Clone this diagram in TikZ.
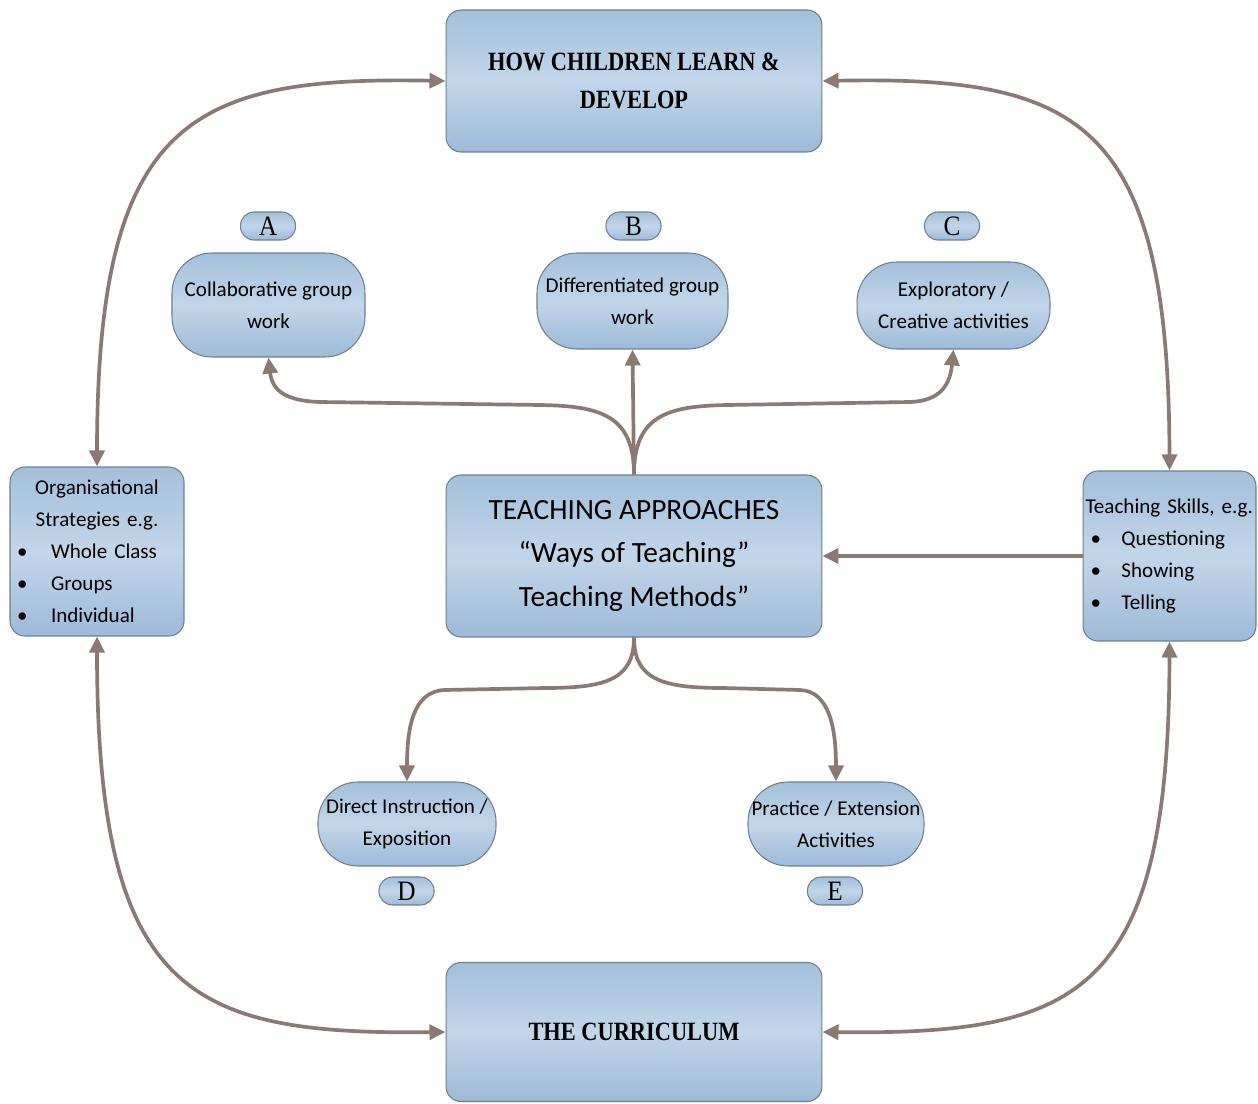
\documentclass[tikz,border=0pt]{standalone}
\usepackage{fontspec}
\setmainfont{Carlito}
\newfontfamily\headfont[FakeStretch=0.85]{Liberation Serif}
\newfontfamily\labfont[FakeStretch=0.9]{Liberation Serif}
\usetikzlibrary{arrows.meta}

\definecolor{boxtop}{HTML}{A3BFDA}
\definecolor{boxmid}{HTML}{C2D6E9}
\definecolor{boxbot}{HTML}{9EBAD7}
\definecolor{boxline}{HTML}{6F7F8E}
\definecolor{linkcol}{HTML}{8B7A73}

\begin{document}
\frenchspacing
\begin{tikzpicture}[x=0.02cm,y=-0.02cm,
  >={Triangle[length=0.32cm,width=0.3cm]},
  shadedbox/.style={draw=boxline, line width=0.6pt, top color=boxtop,
    bottom color=boxbot, middle color=boxmid, inner sep=0pt},
  bigbox/.style={shadedbox, rounded corners=0.3cm, minimum width=7.52cm, align=center},
  sidebox/.style={shadedbox, rounded corners=0.3cm, align=left,
    font=\fontsize{12}{18.2}\selectfont},
  pillbox/.style={shadedbox, rounded corners=0.8cm, align=center,
    font=\fontsize{12}{18.2}\selectfont},
  tagbox/.style={shadedbox, rounded corners=0.27cm, minimum width=1.1cm,
    minimum height=0.56cm, font=\labfont\fontsize{16}{16}\selectfont},
  conn/.style={draw=linkcol, line width=2.1pt},
]
\fill[white] (0,0) rectangle (1258,1104);
\useasboundingbox (0,0) rectangle (1258,1104);

% main boxes
\node[bigbox, minimum height=2.84cm, font=\headfont\bfseries\fontsize{15}{21.6}\selectfont]
  (top) at (634,81) {HOW CHILDREN LEARN \&\\DEVELOP};
\node[bigbox, minimum height=3.24cm, font=\fontsize{16.7}{25}\selectfont]
  (ctr) at (634,556) {TEACHING APPROACHES\\“Ways of Teaching”\\Teaching Methods”};
\node[bigbox, minimum height=2.78cm, font=\headfont\bfseries\fontsize{15}{21.6}\selectfont]
  (bot) at (634,1032) {THE CURRICULUM};

% side boxes
\node[sidebox, minimum width=3.48cm, minimum height=3.38cm, text width=3.2cm]
  (lft) at (97,551.5)
  {\makebox[3.2cm]{Organisational}\\
   \makebox[3.2cm]{Strategies e.g.}\\
   \makebox[0.68cm][l]{\textbullet}Whole Class\\
   \makebox[0.68cm][l]{\textbullet}Groups\\
   \makebox[0.68cm][l]{\textbullet}Individual};
\node[sidebox, minimum width=3.46cm, minimum height=3.4cm, text width=3.36cm]
  (rgt) at (1169.5,556)
  {Teaching Skills, e.g.\\
   \hspace*{0.1cm}\makebox[0.62cm][l]{\textbullet}Questioning\\
   \hspace*{0.1cm}\makebox[0.62cm][l]{\textbullet}Showing\\
   \hspace*{0.1cm}\makebox[0.62cm][l]{\textbullet}Telling};

% approach pills
\node[pillbox, minimum width=3.86cm, minimum height=2.08cm] (A) at (268.5,305)
  {Collaborative group\\work};
\node[pillbox, minimum width=3.82cm, minimum height=1.92cm] (B) at (632.5,301)
  {Differentiated group\\work};
\node[pillbox, minimum width=3.86cm, minimum height=1.74cm] (C) at (953.5,305.5)
  {Exploratory /\\Creative activities};
\node[pillbox, minimum width=3.56cm, minimum height=1.68cm] (D) at (407,824)
  {Direct Instruction /\\Exposition};
\node[pillbox, minimum width=3.52cm, minimum height=1.68cm] (E) at (836,824)
  {Practice / Extension\\Activities};

% letter tags
\node[tagbox] (tA) at (268,226) {A};
\node[tagbox] (tB) at (633.5,226) {B};
\node[tagbox] (tC) at (952,226) {C};
\node[tagbox] (tD) at (406.5,891) {D};
\node[tagbox] (tE) at (835,891) {E};

% outer cycle
\draw[conn,<->] (lft.north) .. controls (97,120) and (190,76) .. (top.west);
\draw[conn,<->] (rgt.north) .. controls (1169,120) and (1080,76) .. (top.east);
\draw[conn,<->] (lft.south) .. controls (97,995) and (190,1035) .. (bot.west);
\draw[conn,<->] (rgt.south) .. controls (1169,995) and (1080,1035) .. (bot.east);

% skills feed the approaches
\draw[conn,->] (rgt.west) -- (ctr.east);

% approaches branch upwards
\draw[conn,->] (ctr.north) -- (B.south);
\draw[conn,->] (ctr.north) .. controls (634,415) and (600,406) .. (540,405)
  -- (320,402) .. controls (285,401) and (272,390) .. (A.south);
\draw[conn,->] (ctr.north) .. controls (634,415) and (668,406) .. (728,405)
  -- (910,402) .. controls (940,401) and (950,385) .. (C.south);

% approaches branch downwards
\draw[conn,->] (ctr.south) .. controls (634,680) and (605,688) .. (545,688)
  -- (445,690) .. controls (412,691) and (407,730) .. (D.north);
\draw[conn,->] (ctr.south) .. controls (634,680) and (663,688) .. (723,688)
  -- (800,690) .. controls (830,691) and (836,730) .. (E.north);
\end{tikzpicture}
\end{document}
